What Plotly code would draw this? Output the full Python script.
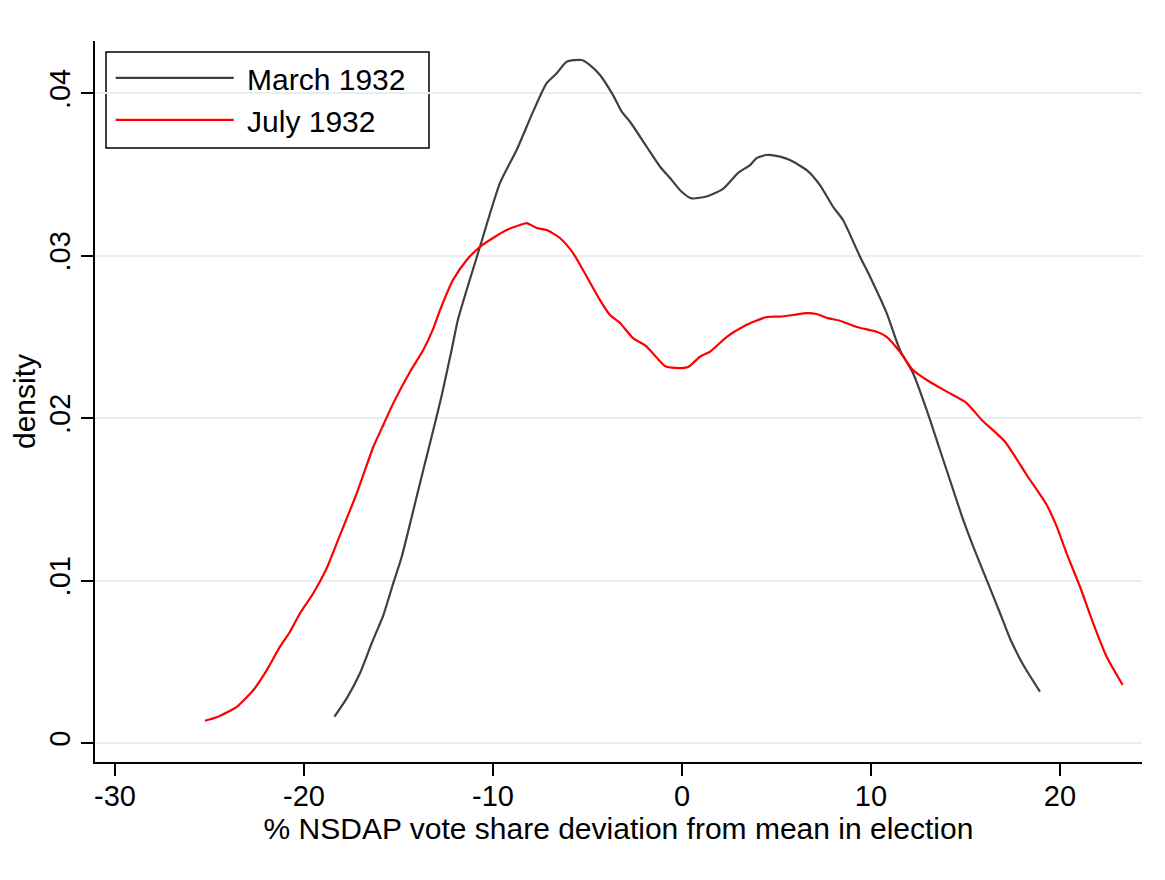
import plotly.graph_objects as go

# Kernel density estimates
march_x = [-18.39, -17.74, -17.04, -16.42, -15.80, -15.28, -14.83, -14.30, -13.69, -13.16,
           -12.71, -12.19, -11.84, -10.69, -9.63, -8.75, -7.88, -7.16, -6.63, -6.10,
           -5.31, -4.87, -4.34, -3.65, -3.19, -2.75, -1.87, -1.16, -0.63, -0.02,
           0.51, 1.38, 2.17, 2.96, 3.60, 3.95, 4.48, 5.19, 5.71, 6.60,
           7.30, 7.99, 8.52, 9.42, 9.95, 10.83, 11.53, 12.22, 12.95, 13.65,
           14.35, 14.88, 15.41, 16.12, 16.83, 17.35, 18.06, 18.94]
march_y = [0.00163, 0.00275, 0.00429, 0.00614, 0.00788, 0.00983, 0.01147, 0.01393, 0.01681, 0.01927,
           0.02142, 0.02420, 0.02613, 0.03055, 0.03448, 0.03651, 0.03887, 0.04062, 0.04123, 0.04194,
           0.04205, 0.04174, 0.04113, 0.03989, 0.03887, 0.03825, 0.03671, 0.03548, 0.03478, 0.03394,
           0.03353, 0.03368, 0.03411, 0.03509, 0.03558, 0.03601, 0.03620, 0.03610, 0.03589, 0.03527,
           0.03435, 0.03302, 0.03220, 0.02994, 0.02871, 0.02647, 0.02420, 0.02278, 0.02050, 0.01804,
           0.01558, 0.01373, 0.01209, 0.01004, 0.00799, 0.00645, 0.00480, 0.00316]

july_x = [-25.24, -24.62, -23.56, -22.68, -21.97, -21.27, -20.74, -20.21, -19.51, -18.80,
          -18.27, -17.74, -17.21, -16.77, -16.33, -15.89, -15.28, -14.39, -13.69, -13.19,
          -12.80, -12.12, -11.39, -10.69, -10.00, -9.28, -8.57, -8.22, -7.69, -7.16,
          -6.46, -5.77, -5.04, -4.34, -3.81, -3.28, -2.59, -1.90, -1.32, -0.90,
          -0.37, 0.32, 0.95, 1.48, 2.37, 3.23, 4.48, 5.19, 5.87, 6.60,
          7.13, 7.66, 8.36, 9.24, 10.30, 10.83, 11.53, 12.22, 12.95, 14.01,
          15.06, 15.86, 17.09, 18.24, 19.30, 19.83, 20.35, 21.06, 21.76, 22.47,
          23.32]
july_y = [0.00137, 0.00158, 0.00223, 0.00326, 0.00449, 0.00593, 0.00685, 0.00799, 0.00922, 0.01076,
          0.01229, 0.01383, 0.01537, 0.01681, 0.01824, 0.01937, 0.02091, 0.02286, 0.02419, 0.02543,
          0.02666, 0.02850, 0.02974, 0.03055, 0.03109, 0.03158, 0.03189, 0.03201, 0.03171, 0.03158,
          0.03109, 0.03017, 0.02871, 0.02727, 0.02635, 0.02586, 0.02493, 0.02444, 0.02370, 0.02321,
          0.02309, 0.02315, 0.02378, 0.02409, 0.02501, 0.02563, 0.02623, 0.02625, 0.02635, 0.02647,
          0.02641, 0.02617, 0.02600, 0.02561, 0.02532, 0.02501, 0.02409, 0.02296, 0.02235, 0.02163,
          0.02093, 0.01989, 0.01855, 0.01650, 0.01465, 0.01332, 0.01168, 0.00962, 0.00737, 0.00531,
          0.00357]

x_ticks = [-30, -20, -10, 0, 10, 20]
x_tick_labels = ["-30", "-20", "-10", "0", "10", "20"]
y_ticks = [0, 0.01, 0.02, 0.03, 0.04]
y_tick_labels = ["0", ".01", ".02", ".03", ".04"]

FONT = "Liberation Sans, Arial, Helvetica, sans-serif"

fig = go.Figure()
fig.add_trace(go.Scatter(x=march_x, y=march_y, mode="lines", name="\u00a0March 1932",
                         line=dict(color="#404040", width=2.2, shape="spline", smoothing=0.6)))
fig.add_trace(go.Scatter(x=july_x, y=july_y, mode="lines", name="\u00a0July 1932",
                         line=dict(color="#ff0000", width=2.2, shape="spline", smoothing=0.6)))

# legend frame (Stata-style box, wider than the entries)
fig.add_shape(type="rect", xref="paper", yref="paper",
              x0=0.0105, x1=0.319, y0=0.8516, y1=0.9847,
              line=dict(color="black", width=1.5), fillcolor="white", layer="below")

# page body keeps its 8px margin, so the figure is sized to fit inside it
fig.update_layout(
    width=1149,
    height=864,
    margin=dict(l=87, r=15, t=33, b=110),
    paper_bgcolor="white",
    plot_bgcolor="white",
    font=dict(family=FONT, size=29, color="black"),
    showlegend=True,
    legend=dict(
        x=0.015, y=0.985, xanchor="left", yanchor="top",
        borderwidth=0, bgcolor="rgba(0,0,0,0)",
        font=dict(size=30), itemwidth=118, tracegroupgap=0,
    ),
    xaxis=dict(
        range=[-31.06, 24.34], tickvals=x_ticks, ticktext=x_tick_labels,
        ticks="outside", ticklen=12, tickwidth=1.5, tickcolor="black",
        showline=True, linecolor="black", linewidth=1.5,
        showgrid=False, zeroline=False, automargin=False,
        tickfont=dict(size=29), ticklabelstandoff=-5,
        title=dict(text="% NSDAP vote share deviation from mean in election",
                   font=dict(size=30), standoff=0),
    ),
    yaxis=dict(
        range=[-0.00117, 0.04322], tickvals=y_ticks, ticktext=y_tick_labels, tickangle=-90,
        ticks="outside", ticklen=12, tickwidth=1.5, tickcolor="black",
        showline=True, linecolor="black", linewidth=1.5,
        showgrid=True, gridcolor="#e6eff1", gridwidth=2, zeroline=False, automargin=False,
        tickfont=dict(size=29),
        title=dict(text="density", font=dict(size=30), standoff=10),
    ),
)

fig.write_html("out.html")
